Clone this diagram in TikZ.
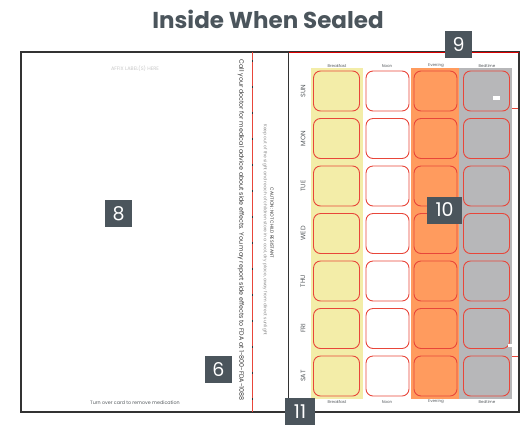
\documentclass[tikz,border=0pt]{standalone}
\usepackage{fontspec}
\setmainfont{Poppins}
\usetikzlibrary{positioning}
\definecolor{slate}{HTML}{4B555C}
\definecolor{framegray}{HTML}{333333}
\definecolor{cellred}{HTML}{E8463A}
\definecolor{breakfastcol}{HTML}{F3EDA8}
\definecolor{eveningcol}{HTML}{FF9B5E}
\definecolor{bedtimecol}{HTML}{B7B7B9}
\definecolor{textgray}{HTML}{555A5E}
\tikzset{
  badge/.style={fill=slate, text=white, minimum height=27pt, minimum width=27pt,
    inner sep=0pt, font=\fontsize{19}{19}\selectfont},
  cell/.style={draw=cellred, line width=0.9pt, rounded corners=7pt,
    minimum height=40pt, inner sep=0pt},
  colhead/.style={text=textgray, font=\fontsize{4}{5}\selectfont, inner sep=0pt},
  daylab/.style={text=textgray, rotate=90, font=\fontsize{6.5}{7}\selectfont, inner sep=0pt},
  sidetext/.style={rotate=-90, inner sep=0pt},
  frameln/.style={draw=framegray, line width=1.3pt},
}
\begin{document}
\begin{tikzpicture}[x=1pt, y=-1pt]
  \useasboundingbox (0,0) rectangle (524,424);
  % title
  \node[text=slate, font=\fontsize{23}{25}\selectfont\bfseries] (title) at (268,19)
    {Inside When Sealed};
  % column backgrounds
  \fill[breakfastcol] (311,68) rectangle (363,399);
  \fill[eveningcol] (411,68) rectangle (459,399);
  \fill[bedtimecol] (459,68) rectangle (512,399);
  % column heads, top and bottom
  \foreach \cx/\lab in {337/Breakfast, 387/Noon, 436/Evening, 487/Bedtime} {
    \node[colhead] (top-\lab) at (\cx,66) {\lab};
    \node[colhead] (bot-\lab) at (\cx,402) {\lab};
  }
  % pill cells
  \foreach \day [count=\i from 0] in {SUN, MON, TUE, WED, THU, FRI, SAT} {
    \pgfmathsetmacro{\cy}{91+47.5*\i}
    \node[daylab] (day-\day) at (303,\cy) {\day};
    \node[cell, minimum width=46pt] (b-\day) at (336.5,\cy) {};
    \node[cell, minimum width=43pt] (n-\day) at (387.5,\cy) {};
    \node[cell, minimum width=43pt] (e-\day) at (435.5,\cy) {};
    \node[cell, minimum width=46pt] (t-\day) at (486.5,\cy) {};
  }
  \fill[white] (493,96) rectangle (500,99.5);
  \fill[white] (508,344) rectangle (513,347);
  \draw[cellred, line width=0.7pt] (512,108) -- (518,108);
  \draw[cellred, line width=0.7pt] (512,356) -- (518,356);
  % card outline and folds
  \draw[frameln] (21,52) rectangle (519,412);
  \draw[red!85!black, line width=0.8pt] (288,52) -- (519,52);
  \draw[cellred, line width=1pt] (252,52) -- (252,412);
  \draw[framegray, line width=0.5pt, dash pattern=on 2pt off 24pt] (252,60) -- (252,412);
  \draw[framegray, line width=1pt] (288,52) -- (288,412);
  % left panel texts
  \node[text=black!22, font=\fontsize{5}{6}\selectfont, inner sep=0pt] (affix) at (135,69)
    {AFFIX LABEL(S) HERE};
  \node[text=textgray, font=\fontsize{4.8}{6}\selectfont, inner sep=0pt] (turn) at (135,403)
    {Turn over card to remove medication};
  \node[sidetext, text=framegray, font=\fontsize{6.3}{7}\selectfont] (call) at (241,230)
    {Call your doctor for medical advice about side effects. You may report side effects to FDA at 1-800-FDA-1088};
  \node[sidetext, text=black!45, font=\fontsize{4.5}{5}\selectfont] (keep) at (265,230)
    {Keep out of the sight and reach of children store in a cool, dry place, away from direct sunlight};
  \node[sidetext, text=framegray, font=\fontsize{4.6}{5}\selectfont] (caution) at (272,223)
    {CAUTION: NOT CHILD RESISTANT};
  % callout badges
  \node[badge] (b8) at (118.5,213.5) {8};
  \node[badge] (b6) at (218.5,369.5) {6};
  \node[badge] (b9) at (458.5,44.5) {9};
  \node[badge, minimum width=35pt] (b10) at (444.5,210) {10};
  \node[badge, minimum width=30pt] (b11) at (300,411.5) {11};
\end{tikzpicture}
\end{document}
